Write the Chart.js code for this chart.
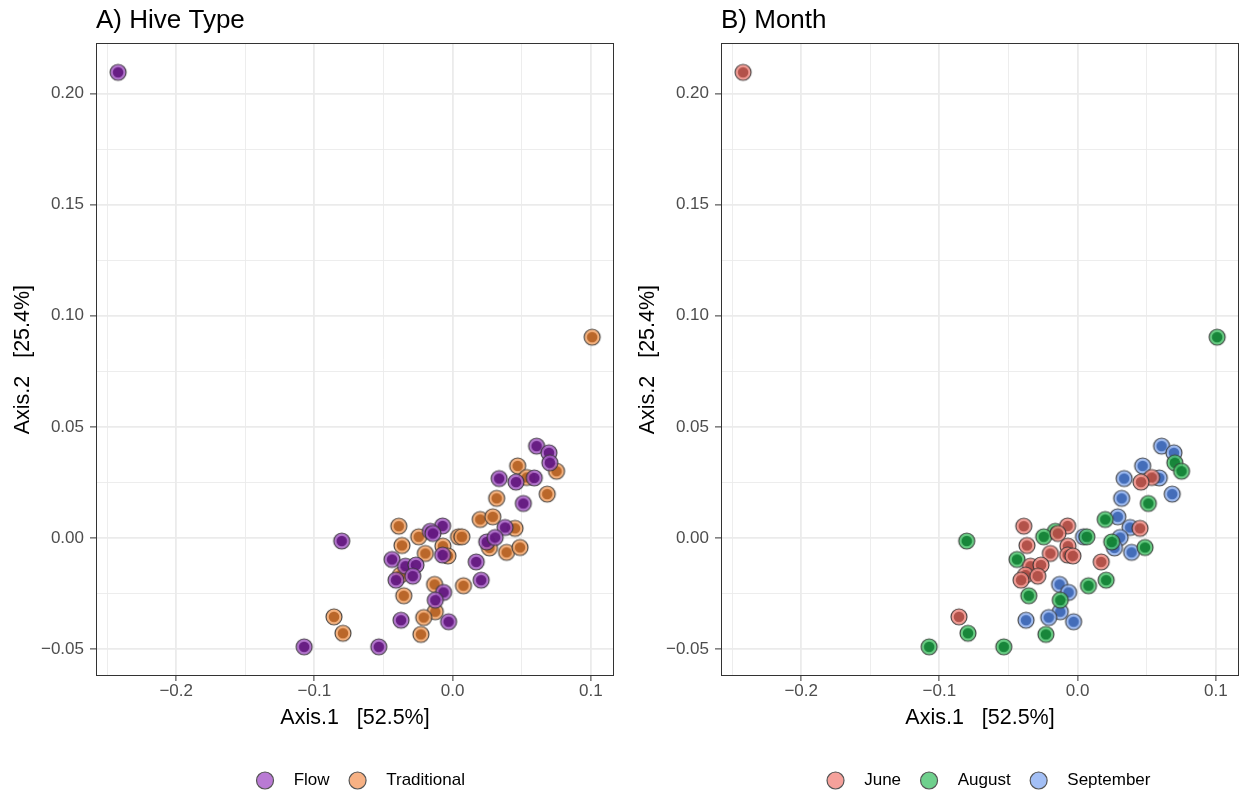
<!DOCTYPE html>
<html>
<head>
<meta charset="utf-8">
<script src="https://cdn.jsdelivr.net/npm/chart.js@4"></script>
<style>
  html, body { margin: 0; padding: 0; background: #fff; overflow: hidden; }
  canvas { position: absolute; top: 0; }
  #hive { left: 0; }
  #month { left: 625px; }
</style>
</head>
<body>
<canvas id="hive" width="624" height="799"></canvas>
<canvas id="month" width="624" height="799"></canvas>
<script>
// PCoA coordinates, one entry per sample
const axis1 = [-0.2420, 0.0608, 0.0697, 0.0704, 0.0752, 0.0471, 0.0536, 0.0591, 0.0337, 0.0459,
  0.0685, 0.0319, 0.0512, 0.0200, 0.0291, 0.0380, 0.0452, 0.0043, 0.0067, 0.0247,
  0.0308, 0.0267, 0.0391, 0.0488, 0.0171, 0.0207, 0.0079, -0.0072, -0.0161, -0.0142,
  -0.0389, -0.0245, -0.0366, -0.0070, -0.0197, -0.0072, -0.0034, -0.0802, -0.0438, -0.0341,
  -0.0265, -0.0377, -0.0409, -0.0288, -0.0353, -0.0130, -0.0065, -0.0125, -0.0125, -0.0373,
  -0.0209, -0.0029, -0.0229, -0.0858, -0.0793, -0.1074, -0.0534, 0.1010];
const axis2 = [0.2095, 0.0414, 0.0384, 0.0339, 0.0301, 0.0325, 0.0273, 0.0271, 0.0268, 0.0252,
  0.0198, 0.0179, 0.0156, 0.0084, 0.0096, 0.0048, 0.0044, 0.0006, 0.0006, -0.0017,
  0.0003, -0.0044, -0.0064, -0.0042, -0.0107, -0.0189, -0.0214, 0.0055, 0.0031, 0.0021,
  0.0054, 0.0006, -0.0033, -0.0036, -0.0069, -0.0076, -0.0080, -0.0013, -0.0096, -0.0126,
  -0.0121, -0.0166, -0.0189, -0.0171, -0.0259, -0.0208, -0.0244, -0.0279, -0.0331, -0.0369,
  -0.0357, -0.0376, -0.0433, -0.0354, -0.0428, -0.0489, -0.0489, 0.0904];
const hiveType = ['Flow', 'Flow', 'Flow', 'Flow', 'Traditional', 'Traditional', 'Traditional', 'Flow', 'Flow', 'Flow',
  'Traditional', 'Traditional', 'Flow', 'Traditional', 'Traditional', 'Flow', 'Traditional', 'Traditional', 'Traditional', 'Flow',
  'Flow', 'Traditional', 'Traditional', 'Traditional', 'Flow', 'Flow', 'Traditional', 'Flow', 'Flow', 'Flow',
  'Traditional', 'Traditional', 'Traditional', 'Traditional', 'Traditional', 'Flow', 'Traditional', 'Flow', 'Flow', 'Flow',
  'Flow', 'Traditional', 'Flow', 'Flow', 'Traditional', 'Traditional', 'Flow', 'Flow', 'Traditional', 'Flow',
  'Traditional', 'Flow', 'Traditional', 'Traditional', 'Traditional', 'Flow', 'Flow', 'Traditional'];
const month = ['June', 'September', 'September', 'August', 'August', 'September', 'June', 'September', 'September', 'June',
  'September', 'September', 'August', 'August', 'September', 'September', 'June', 'September', 'August', 'August',
  'September', 'September', 'September', 'August', 'June', 'August', 'August', 'June', 'August', 'June',
  'June', 'August', 'June', 'June', 'June', 'June', 'June', 'August', 'August', 'June',
  'June', 'June', 'June', 'June', 'August', 'September', 'September', 'August', 'September', 'September',
  'September', 'September', 'August', 'June', 'August', 'August', 'August', 'August'];

const hiveTypes = ['Flow', 'Traditional'];
const months = ['June', 'August', 'September'];

const colors = {
  Flow:        { light: '#a65ec4', dark: '#5c0f78', key: '#b97ad4' },
  Traditional: { light: '#f3a66a', dark: '#b05a1c', key: '#f7b184' },
  June:        { light: '#f08c84', dark: '#a8453d', key: '#f5a19b' },
  August:      { light: '#4fc46e', dark: '#0b7a2e', key: '#6fd08d' },
  September:   { light: '#8fb0ee', dark: '#3560b0', key: '#a3bff5' }
};

Chart.defaults.font.family = '"Liberation Sans", Arial, sans-serif';

// point marker: light disc with dark centre and grey rim
function makeMarker(light, dark) {
  const c = document.createElement('canvas');
  c.width = 20; c.height = 20;
  const g = c.getContext('2d');
  g.globalAlpha = 0.85;
  g.beginPath(); g.arc(10, 10, 8.0, 0, Math.PI * 2);
  g.fillStyle = light; g.fill();
  g.lineWidth = 1.2; g.strokeStyle = '#333'; g.stroke();
  g.beginPath(); g.arc(10, 10, 5.3, 0, Math.PI * 2);
  g.fillStyle = dark; g.fill();
  return c;
}

function buildDatasets(groups, groupOf) {
  return groups.map(name => ({
    label: name,
    data: axis1.map((x, i) => ({ x: x, y: axis2[i] })).filter((p, i) => groupOf[i] === name),
    pointStyle: makeMarker(colors[name].light, colors[name].dark),
    pointRadius: 9,
    keyColor: colors[name].key
  }));
}

function isMajor(v, step) {
  return Math.abs(v / step - Math.round(v / step)) < 1e-6;
}
function fmt(v, d) {
  if (Math.abs(v) < 1e-9) v = 0;
  const s = Math.abs(v).toFixed(d);
  return v < 0 ? '\u2212' + s : s;
}

const panelBorder = {
  id: 'panelBorder',
  afterDatasetsDraw(chart) {
    const { ctx, chartArea: a } = chart;
    ctx.save();
    ctx.strokeStyle = '#333';
    ctx.lineWidth = 1;
    ctx.strokeRect(Math.round(a.left) + 0.5, Math.round(a.top) + 0.5, Math.round(a.right - a.left) - 1, Math.round(a.bottom - a.top) - 1);
    ctx.restore();
  }
};

const legendShift = {
  id: 'legendShift',
  afterLayout(chart, args, opts) {
    if (chart.legend) {
      chart.legend.left += opts.dx || 0;
      chart.legend.right += opts.dx || 0;
    }
  }
};

function makeOptions(titleText, dx) {
  return {
    responsive: false,
    animation: false,
    events: [],
    layout: { padding: { left: 0, right: 6, top: 0, bottom: 0 } },
    scales: {
      x: {
        type: 'linear',
        min: -0.258,
        max: 0.1168,
        afterFit: s => { s.height = 74; },
        border: { display: false },
        grid: {
          color: '#ebebeb',
          lineWidth: c => isMajor(c.tick.value, 0.1) ? 1.8 : 0.9,
          tickLength: 5,
          tickWidth: 1,
          tickColor: c => isMajor(c.tick.value, 0.1) ? '#333' : 'rgba(0,0,0,0)'
        },
        ticks: {
          stepSize: 0.05,
          includeBounds: false,
          autoSkip: false,
          maxRotation: 0,
          padding: 0,
          color: '#4d4d4d',
          font: { size: 17 },
          callback: v => isMajor(v, 0.1) ? fmt(v, 1) : ''
        },
        title: {
          display: true,
          text: 'Axis.1   [52.5%]',
          color: '#000',
          font: { size: 21.5 },
          padding: { top: 0, bottom: 19 }
        }
      },
      y: {
        type: 'linear',
        min: -0.062,
        max: 0.2226,
        afterFit: s => { s.width = 96; },
        border: { display: false },
        grid: {
          color: '#ebebeb',
          lineWidth: c => isMajor(c.tick.value, 0.05) ? 1.8 : 0.9,
          tickLength: 6,
          tickWidth: 1,
          tickColor: c => isMajor(c.tick.value, 0.05) ? '#333' : 'rgba(0,0,0,0)'
        },
        ticks: {
          stepSize: 0.025,
          includeBounds: false,
          autoSkip: false,
          padding: 6,
          color: '#4d4d4d',
          font: { size: 17 },
          callback: v => isMajor(v, 0.05) ? fmt(v, 2) : ''
        },
        title: {
          display: true,
          text: 'Axis.2   [25.4%]',
          color: '#000',
          font: { size: 21.5 },
          padding: { top: 10, bottom: 0 }
        }
      }
    },
    plugins: {
      title: {
        display: true,
        text: titleText,
        align: 'start',
        fullSize: false,
        color: '#000',
        font: { size: 26, weight: 'normal' },
        padding: { top: 5, bottom: 7 }
      },
      legend: {
        position: 'bottom',
        fullSize: false,
        labels: {
          usePointStyle: true,
          boxWidth: 12,
          boxHeight: 12,
          padding: 22,
          color: '#1a1a1a',
          font: { size: 17 },
          generateLabels: chart => chart.data.datasets.map((ds, i) => ({
            text: '   ' + ds.label,
            fillStyle: ds.keyColor,
            strokeStyle: '#555',
            lineWidth: 1.2,
            pointStyle: 'circle',
            datasetIndex: i,
            hidden: false
          }))
        }
      },
      tooltip: { enabled: false },
      legendShift: { dx: dx }
    }
  };
}

new Chart(document.getElementById('hive'), {
  type: 'scatter',
  data: { datasets: buildDatasets(hiveTypes, hiveType) },
  options: makeOptions('A) Hive Type', 7),
  plugins: [panelBorder, legendShift]
});

new Chart(document.getElementById('month'), {
  type: 'scatter',
  data: { datasets: buildDatasets(months, month) },
  options: makeOptions('B) Month', 10),
  plugins: [panelBorder, legendShift]
});
</script>
</body>
</html>
